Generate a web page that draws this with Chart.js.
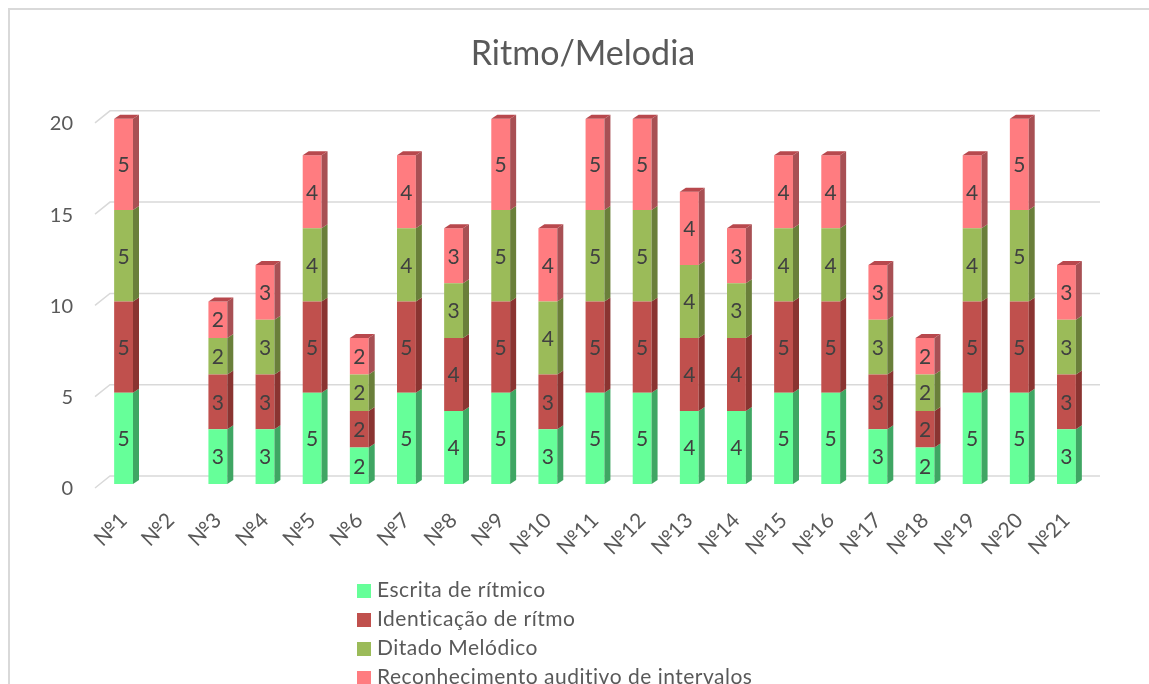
<!DOCTYPE html>
<html>
<head>
<meta charset="utf-8">
<script src="https://cdn.jsdelivr.net/npm/chart.js@4.4.1/dist/chart.umd.min.js"></script>
<style>
  html, body { margin: 0; padding: 0; background: #fff; overflow: hidden; }
  body { width: 1149px; height: 684px; position: relative; font-family: Lato, "Open Sans", sans-serif; }
  #frame { position: absolute; left: 8px; top: 8px; width: 1200px; height: 700px; border-left: 2px solid #d9d9d9; border-top: 2px solid #d9d9d9; }
  #chart { position: absolute; left: 0; top: 0; }
  #legend { position: absolute; left: 357px; top: 574px; color: #595959; font-size: 21px; letter-spacing: 0.5px; }
  #legend div { height: 29px; line-height: 29px; white-space: nowrap; }
  #legend span { display: inline-block; width: 14px; height: 14px; margin-right: 6px; vertical-align: -1px; }
</style>
</head>
<body>
<div id="frame"></div>
<canvas id="chart" width="1149" height="684"></canvas>
<div id="legend"></div>
<script>
const categories = ["№1","№2","№3","№4","№5","№6","№7","№8","№9","№10","№11","№12","№13","№14","№15","№16","№17","№18","№19","№20","№21"];
const escrita        = [5,null,3,3,5,2,5,4,5,3,5,5,4,4,5,5,3,2,5,5,3];
const identicacao    = [5,null,3,3,5,2,5,4,5,3,5,5,4,4,5,5,3,2,5,5,3];
const ditado         = [5,null,2,3,4,2,4,3,5,4,5,5,4,3,4,4,3,2,4,5,3];
const reconhecimento = [5,null,2,3,4,2,4,3,5,4,5,5,4,3,4,4,3,2,4,5,3];
const yTicks = [0,5,10,15,20];

const seriesNames = ["Escrita de rítmico","Identicação de rítmo","Ditado Melódico","Reconhecimento auditivo de intervalos"];
const frontColors = ["#66FF99","#C0504D","#9BBB59","#FF7C80"];
const sideColors  = ["#3FA663","#8A3431","#6A7F3A","#A85054"];
const topColors   = ["#4CC077","#A04340","#82994A","#B8484D"];

const DX = 6, DY = 4;   // bar depth
const GX = 10, GY = 8;  // back wall offset

// gridlines on the back wall, with a little diagonal on the left side
const grid3d = {
  id: "grid3d",
  beforeDatasetsDraw(chart) {
    const ctx = chart.ctx, y = chart.scales.y, area = chart.chartArea;
    ctx.save();
    ctx.strokeStyle = "#d9d9d9";
    ctx.lineWidth = 1.5;
    yTicks.forEach(v => {
      const py = y.getPixelForValue(v);
      ctx.beginPath();
      ctx.moveTo(area.left - 5, py + 4);
      ctx.lineTo(area.left + GX, py - GY);
      ctx.lineTo(area.right + GX, py - GY);
      ctx.stroke();
    });
    ctx.restore();
  }
};

// side and top faces + value labels
const bars3d = {
  id: "bars3d",
  afterDatasetsDraw(chart) {
    const ctx = chart.ctx;
    const n = chart.data.datasets.length;
    ctx.save();
    for (let d = 0; d < n; d++) {
      const meta = chart.getDatasetMeta(d);
      meta.data.forEach((el, i) => {
        const v = chart.data.datasets[d].data[i];
        if (!v) return;
        const r = el.x + el.width / 2, l = el.x - el.width / 2;
        ctx.fillStyle = sideColors[d];
        ctx.beginPath();
        ctx.moveTo(r, el.base);
        ctx.lineTo(r, el.y);
        ctx.lineTo(r + DX, el.y - DY);
        ctx.lineTo(r + DX, el.base - DY);
        ctx.closePath();
        ctx.fill();
        let isTop = true;
        for (let k = d + 1; k < n; k++) if (chart.data.datasets[k].data[i]) isTop = false;
        if (isTop) {
          ctx.fillStyle = topColors[d];
          ctx.beginPath();
          ctx.moveTo(l, el.y);
          ctx.lineTo(l + DX, el.y - DY);
          ctx.lineTo(r + DX, el.y - DY);
          ctx.lineTo(r, el.y);
          ctx.closePath();
          ctx.fill();
        }
      });
    }
    ctx.fillStyle = "#404040";
    ctx.font = "21px Lato";
    ctx.textAlign = "center";
    ctx.textBaseline = "middle";
    for (let d = 0; d < n; d++) {
      const meta = chart.getDatasetMeta(d);
      meta.data.forEach((el, i) => {
        const v = chart.data.datasets[d].data[i];
        if (!v) return;
        ctx.fillText(String(v), el.x, (el.y + el.base) / 2 + 1);
      });
    }
    ctx.restore();
  }
};

const allSeries = [escrita, identicacao, ditado, reconhecimento];

new Chart(document.getElementById("chart"), {
  type: "bar",
  data: {
    labels: categories,
    datasets: allSeries.map((s, i) => ({
      label: seriesNames[i],
      data: s,
      backgroundColor: frontColors[i],
      borderWidth: 0,
      barPercentage: 0.4,
      categoryPercentage: 1
    }))
  },
  options: {
    responsive: false,
    animation: false,
    devicePixelRatio: 1,
    layout: { padding: { left: 40, right: 23, top: 28, bottom: 120 } },
    plugins: {
      legend: { display: false },
      tooltip: { enabled: false },
      title: {
        display: true,
        text: "Ritmo/Melodia",
        color: "#595959",
        font: { family: "Lato", size: 34, weight: "normal" },
        padding: { top: 6, bottom: 44 }
      }
    },
    scales: {
      x: {
        stacked: true,
        grid: { display: false, drawTicks: false },
        border: { display: false },
        ticks: {
          autoSkip: false,
          minRotation: 45,
          maxRotation: 45,
          padding: 24,
          color: "#595959",
          font: { family: "Lato", size: 21 }
        },
        afterFit(scale) { scale.height = 80; }
      },
      y: {
        stacked: true,
        min: 0,
        max: 20,
        grid: { display: false, drawTicks: false },
        border: { display: false },
        afterBuildTicks(scale) { scale.ticks = yTicks.map(v => ({ value: v })); },
        ticks: {
          padding: 27,
          labelOffset: 5,
          color: "#595959",
          font: { family: "Lato", size: 20 }
        },
        afterFit(scale) { scale.width = 60; }
      },
      // empty axis on the right, only to keep the plot where the reference has it
      y2: {
        position: "right",
        grid: { display: false, drawTicks: false },
        border: { display: false },
        ticks: { display: false },
        afterFit(scale) { scale.width = 36; }
      }
    }
  },
  plugins: [grid3d, bars3d]
});

// legend, one entry per line
const legend = document.getElementById("legend");
seriesNames.forEach((name, i) => {
  const row = document.createElement("div");
  row.innerHTML = '<span style="background:' + frontColors[i] + '"></span>' + name;
  legend.appendChild(row);
});
</script>
</body>
</html>
